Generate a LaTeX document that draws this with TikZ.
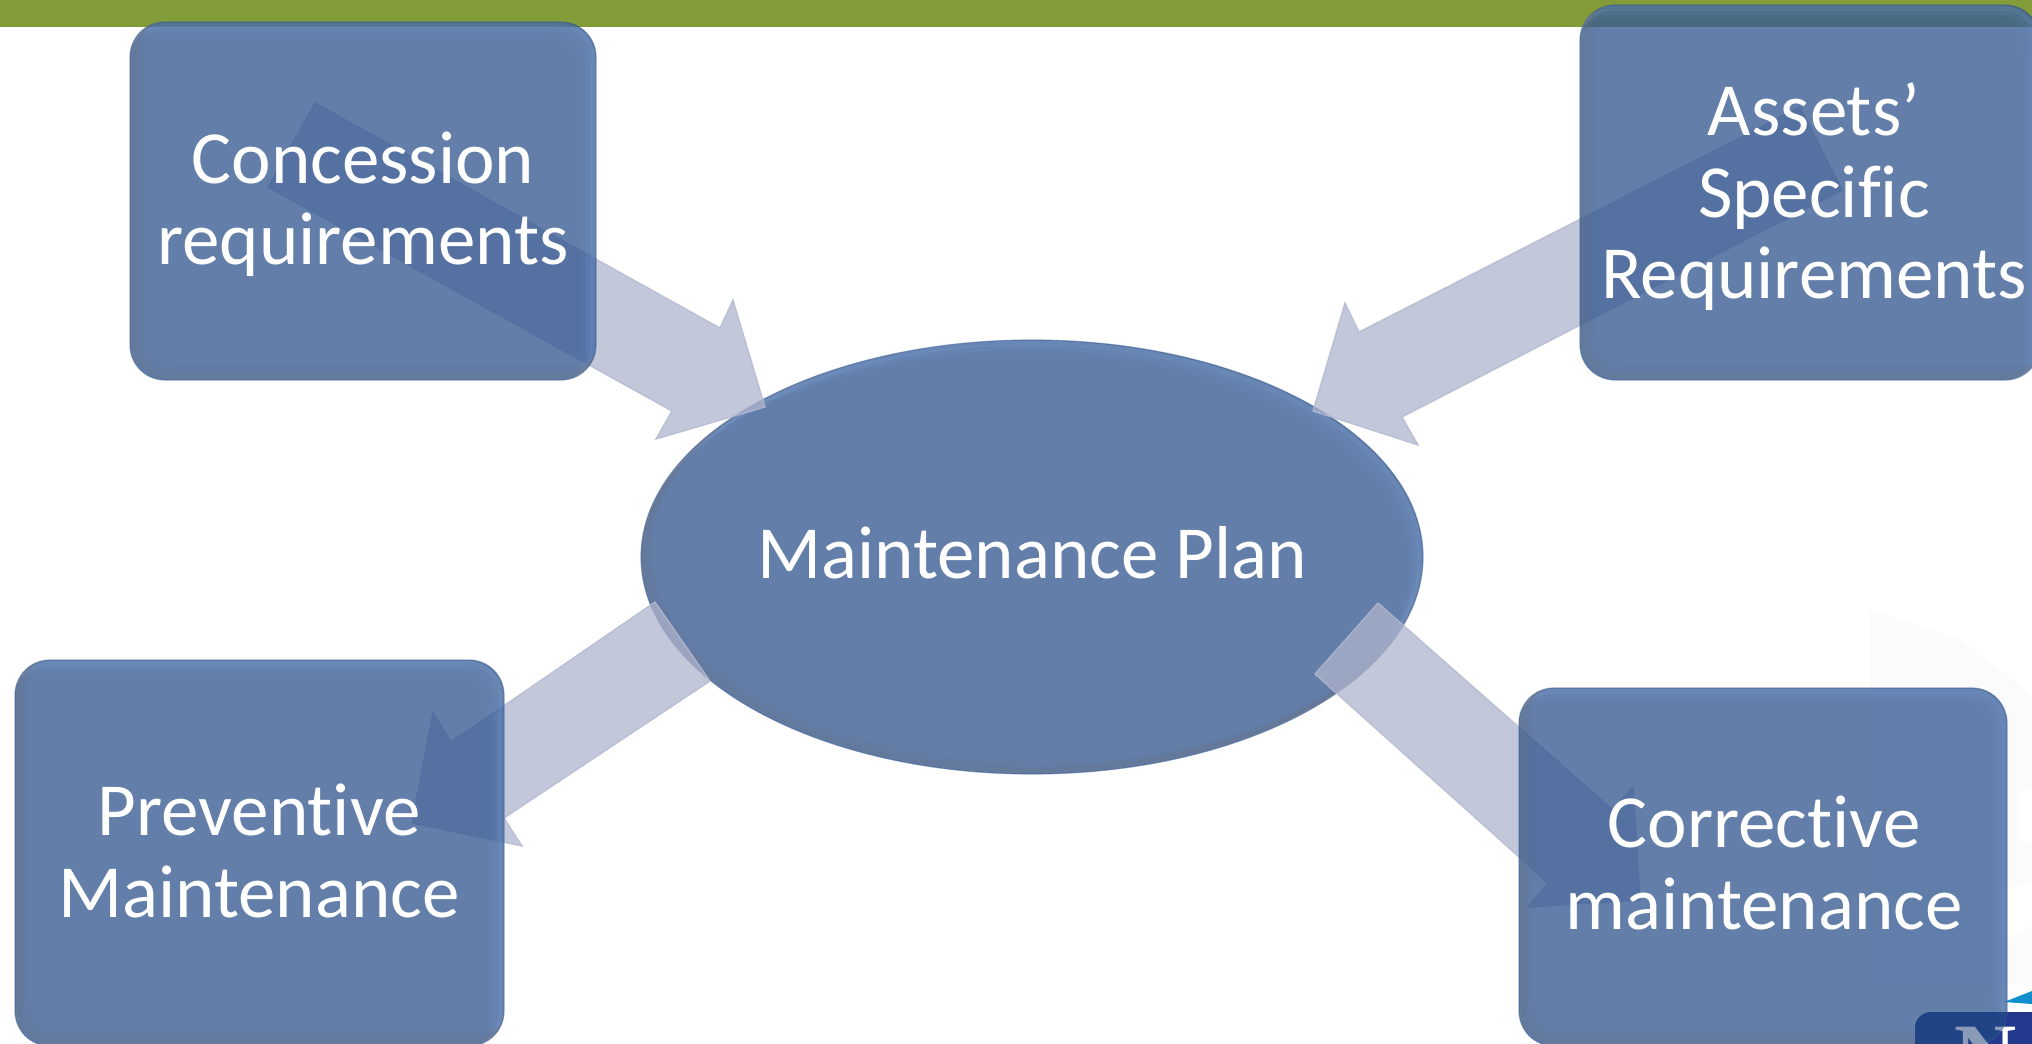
\documentclass[tikz,border=0pt]{standalone}
\usepackage{fontspec}
\setmainfont[Ligatures={NoCommon,NoRequired,NoContextual}]{Carlito}
\newfontfamily\logofont{Liberation Serif}
\usetikzlibrary{shapes.geometric}
\definecolor{barGreen}{HTML}{829C3A}
\definecolor{shapeBlue}{HTML}{365A92}
\definecolor{bevelLight}{HTML}{86AEE8}
\definecolor{bevelDark}{HTML}{6E6E78}
\definecolor{arrowFill}{HTML}{AEB4CC}
\definecolor{arrowEdge}{HTML}{B4B9D0}
\definecolor{logoBlue}{HTML}{22398D}
\definecolor{logoOver}{HTML}{1C4184}
\definecolor{logoCyan}{HTML}{0F8FCB}
\definecolor{markGray}{HTML}{FBFBFB}
\definecolor{letterOver}{HTML}{8A9BB8}
\tikzset{
  x=1pt,y=-1pt,
  plate/.style={draw=shapeBlue,draw opacity=.5,line width=1.2pt,fill=shapeBlue,fill opacity=.78,rectangle,rounded corners=35pt,inner sep=0pt},
  centreoval/.style={draw=shapeBlue,draw opacity=.5,line width=1.2pt,fill=shapeBlue,fill opacity=.78,ellipse,inner sep=0pt,minimum width=782pt,minimum height=434pt},
  blockarrow/.style={fill=arrowFill,fill opacity=.74,draw=arrowEdge,draw opacity=.8,line width=1.4pt,line join=miter},
  lbl/.style={text=white,align=center,inner sep=0pt,font=\fontsize{75}{81.5}\selectfont},
}
% name, x1, y1, x2, y2
\newcommand{\bevelplate}[5]{%
  \node[plate,minimum width=#4pt-#2pt,minimum height=#5pt-#3pt] (#1) at ({(#2+#4)/2},{(#3+#5)/2}) {};
  \begin{scope}
    \clip[rounded corners=35pt] (#2,#3) rectangle (#4,#5);
    \foreach \d/\o in {3/.2,7/.12,11/.06,15/.03}{
      \draw[bevelLight,opacity=\o,line width=5pt,rounded corners=35pt] (#2-\d,#3+\d) rectangle (#4-\d,#5+\d);
    }
    \foreach \d/\o in {3/.24,7/.15,11/.08,15/.03}{
      \draw[bevelDark,opacity=\o,line width=5pt,rounded corners=35pt] (#2+\d,#3-\d) rectangle (#4+\d,#5-\d);
    }
  \end{scope}
}
\begin{document}
\begin{tikzpicture}
\useasboundingbox (0,0) rectangle (2032,1044);
\clip (0,0) rectangle (2032,1044);
\fill[white] (0,0) rectangle (2032,1044);
% faint background watermark
\fill[markGray] (1870,610) -- (1960,640) -- (2032,695) -- (2032,790) -- (2020,790) -- (2020,843) -- (2032,843) -- (2032,883) -- (2007,888) -- (2007,940) -- (2032,925) -- (2032,985) -- (1870,985) -- cycle;
% top band
\fill[barGreen] (0,0) rectangle (2032,27);
% logo
\fill[logoCyan] (2004,1002) -- (2032,991) -- (2032,1004) -- cycle;
\fill[logoBlue,rounded corners=16pt] (1915,1012) rectangle (2070,1070);
\node[text=white,inner sep=0pt,anchor=base,font=\logofont\bfseries\fontsize{86}{86}\selectfont] (logoN) at (1986,1083) {N};
% centre ellipse
\node[centreoval] (plan) at (1032,557) {};
\begin{scope}
  \clip (1032,557) ellipse [x radius=391,y radius=217];
  \foreach \d/\o in {3/.2,7/.12,11/.06}{
    \draw[bevelLight,opacity=\o,line width=5pt] (1032-\d,557+\d) ellipse [x radius=391,y radius=217];
  }
  \foreach \d/\o in {3/.24,7/.14,11/.06}{
    \draw[bevelDark,opacity=\o,line width=5pt] (1032+\d,557-\d) ellipse [x radius=391,y radius=217];
  }
\end{scope}
% block arrows
\coordinate (a1a) at (315,103); \coordinate (a1b) at (720,328); \coordinate (a1c) at (733,300);
\coordinate (a1d) at (765,407); \coordinate (a1e) at (656,439); \coordinate (a1f) at (672,411); \coordinate (a1g) at (268,187);
\draw[blockarrow] (a1a) -- (a1b) -- (a1c) -- (a1d) -- (a1e) -- (a1f) -- (a1g) -- cycle;
\coordinate (a2a) at (1800,107); \coordinate (a2b) at (1359,332); \coordinate (a2c) at (1345,303);
\coordinate (a2d) at (1313,411); \coordinate (a2e) at (1418,445); \coordinate (a2f) at (1402,417); \coordinate (a2g) at (1842,190);
\draw[blockarrow] (a2a) -- (a2b) -- (a2c) -- (a2d) -- (a2e) -- (a2f) -- (a2g) -- cycle;
\coordinate (a3a) at (655,602); \coordinate (a3b) at (451,742); \coordinate (a3c) at (433,712);
\coordinate (a3d) at (412,823); \coordinate (a3e) at (522,846); \coordinate (a3f) at (504,818); \coordinate (a3g) at (710,681);
\draw[blockarrow] (a3a) -- (a3b) -- (a3c) -- (a3d) -- (a3e) -- (a3f) -- (a3g) -- cycle;
\coordinate (a4a) at (1378,603); \coordinate (a4b) at (1613,810); \coordinate (a4c) at (1633,787);
\coordinate (a4d) at (1640,900); \coordinate (a4e) at (1528,907); \coordinate (a4f) at (1548,883); \coordinate (a4g) at (1315,674);
\draw[blockarrow] (a4a) -- (a4b) -- (a4c) -- (a4d) -- (a4e) -- (a4f) -- (a4g) -- cycle;
% boxes
\bevelplate{concession}{130}{22}{596}{380}
\bevelplate{assets}{1580}{5}{2040}{380}
\bevelplate{preventive}{15}{660}{504}{1046}
\bevelplate{corrective}{1519}{688}{2007}{1046}
% logo seen through the box
\begin{scope}
  \clip[rounded corners=35pt] (1519,688) rectangle (2007,1046);
  \fill[logoOver,opacity=.85,rounded corners=16pt] (1915,1012) rectangle (2070,1070);
  \node[text=letterOver,inner sep=0pt,anchor=base,font=\logofont\bfseries\fontsize{86}{86}\selectfont] (logoNover) at (1986,1083) {N};
\end{scope}
% labels
\node[lbl,anchor=center] (planText) at (1032,553) {Maintenance Plan};
\node[lbl,anchor=center] (concessionText) at (363,204) {Concession\\requirements};
\node[lbl,anchor=center] (assetsText) at (1814,197) {Assets’\\Specific\\Requirements};
\node[lbl,anchor=center] (preventiveText) at (259,851) {Preventive\\Maintenance};
\node[lbl,anchor=center] (correctiveText) at (1764,863) {Corrective\\maintenance};
\end{tikzpicture}
\end{document}
